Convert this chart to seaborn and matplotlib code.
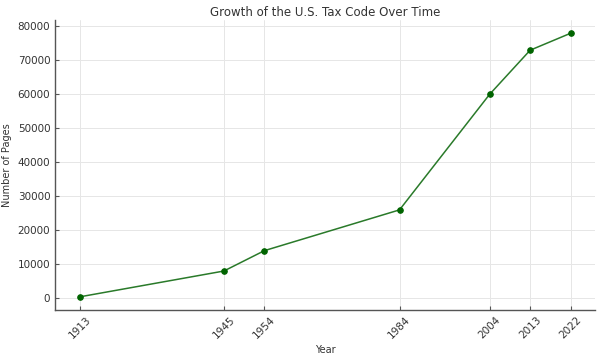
import numpy as np
import pandas as pd
import matplotlib
matplotlib.use("Agg")
import matplotlib.pyplot as plt
import seaborn as sns

years = [1913, 1945, 1954, 1984, 2004, 2013, 2022]
pages = [400, 8000, 14000, 26000, 60000, 73000, 78000]

df = pd.DataFrame({'Year': years, 'Pages': pages})

sns.set_style("whitegrid")
plt.rcParams['font.family'] = ['DejaVu Sans']

fig = plt.figure(figsize=(6, 3.58), dpi=100)
ax = fig.add_axes([0.092, 0.134, 0.9, 0.81])

sns.lineplot(data=df, x='Year', y='Pages', ax=ax, color='#2a7a2a', linewidth=1.1,
             marker='o', markersize=4, markerfacecolor='#006400', markeredgecolor='#006400')

ax.set_xticks(years)
ax.set_xticklabels([str(y) for y in years], rotation=45)
ax.set_title('Growth of the U.S. Tax Code Over Time', fontsize=8.5, color='#333333', pad=3)
ax.set_xlabel('Year', fontsize=7, color='#333333', labelpad=3)
ax.set_ylabel('Number of Pages', fontsize=7, color='#333333')
ax.tick_params(axis='both', labelsize=7.5, colors='#333333', direction='in', length=3,
               left=True, bottom=True, color='#555555')
ax.grid(True, color='#e6e6e6', linewidth=0.7)
for s in ['top', 'right']:
    ax.spines[s].set_visible(False)
for s in ['left', 'bottom']:
    ax.spines[s].set_color('#555555')
    ax.spines[s].set_linewidth(1.0)
ax.margins(x=0.05, y=0.05)

plt.savefig('out.png', dpi=100)
